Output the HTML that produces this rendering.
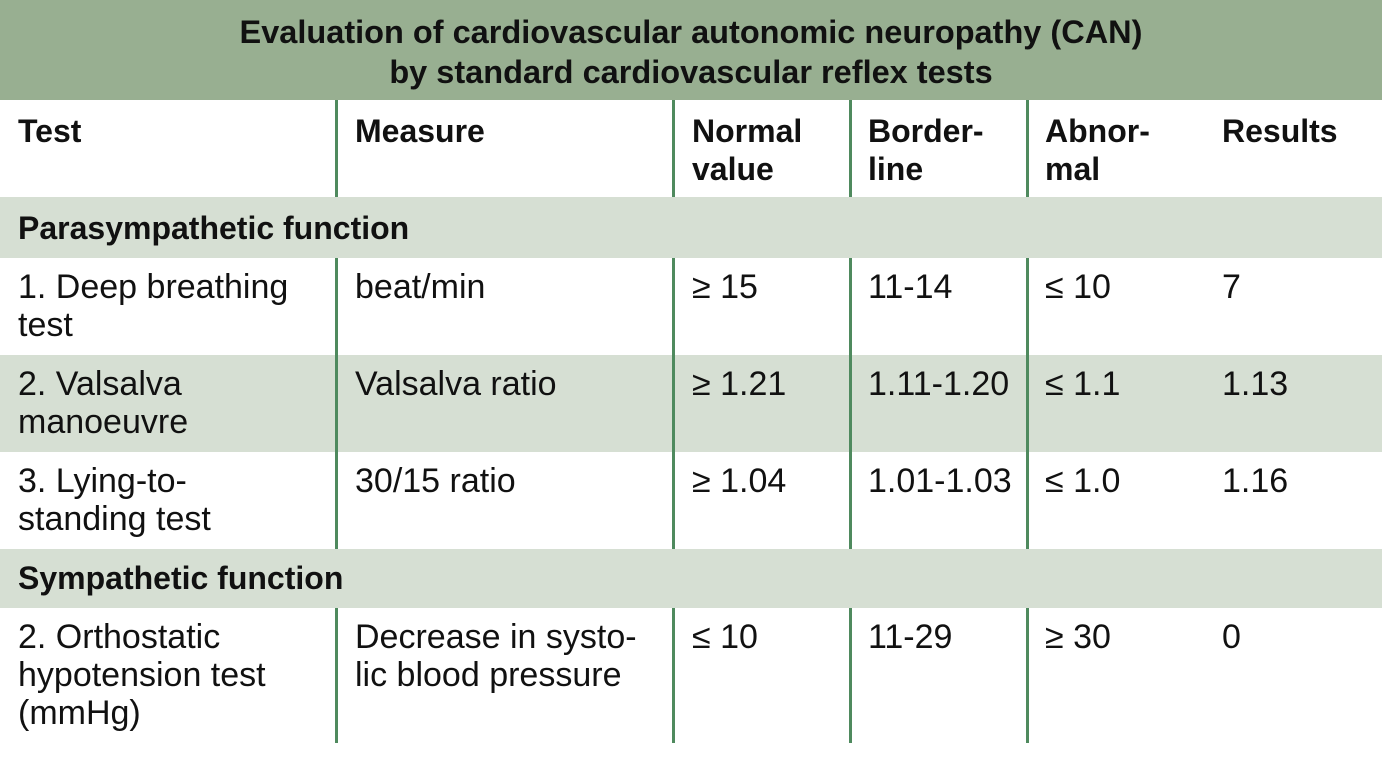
<!DOCTYPE html>
<html><head><meta charset="utf-8"><style>
body{margin:0;width:1382px;height:769px;background:#fff;position:relative;overflow:hidden;font-family:"Liberation Sans",Arial,sans-serif;color:#111}
.b{position:absolute;left:0;width:1382px}
.t{position:absolute;font-size:34px;line-height:38px;white-space:nowrap}
.h{font-weight:bold;font-size:32px}
.v{position:absolute;width:3px;background:#4f8a5e}
</style></head><body>
<div class="b" style="top:0;height:100px;background:#98af91"></div>
<div class="b" style="top:197px;height:61px;background:#d6dfd3"></div>
<div class="b" style="top:355px;height:97px;background:#d6dfd3"></div>
<div class="b" style="top:549px;height:59px;background:#d6dfd3"></div>
<div class="t h" style="left:0;width:1382px;text-align:center;top:12px;font-size:32.5px;line-height:40px">Evaluation of cardiovascular autonomic neuropathy (CAN)<br>by standard cardiovascular reflex tests</div>

<div class="v" style="left:335px;top:100px;height:97px"></div>
<div class="v" style="left:672px;top:100px;height:97px"></div>
<div class="v" style="left:849px;top:100px;height:97px"></div>
<div class="v" style="left:1026px;top:100px;height:97px"></div>
<div class="v" style="left:335px;top:258px;height:291px"></div>
<div class="v" style="left:672px;top:258px;height:291px"></div>
<div class="v" style="left:849px;top:258px;height:291px"></div>
<div class="v" style="left:1026px;top:258px;height:291px"></div>
<div class="v" style="left:335px;top:608px;height:135px"></div>
<div class="v" style="left:672px;top:608px;height:135px"></div>
<div class="v" style="left:849px;top:608px;height:135px"></div>
<div class="v" style="left:1026px;top:608px;height:135px"></div>

<div class="t h" style="left:18px;top:112px">Test</div>
<div class="t h" style="left:355px;top:112px">Measure</div>
<div class="t h" style="left:692px;top:112px">Normal<br>value</div>
<div class="t h" style="left:868px;top:112px">Border-<br>line</div>
<div class="t h" style="left:1045px;top:112px">Abnor-<br>mal</div>
<div class="t h" style="left:1222px;top:112px">Results</div>

<div class="t h" style="left:18px;top:209px">Parasympathetic function</div>

<div class="t" style="left:18px;top:268px">1. Deep breathing<br>test</div>
<div class="t" style="left:355px;top:268px">beat/min</div>
<div class="t" style="left:692px;top:268px">≥ 15</div>
<div class="t" style="left:868px;top:268px">11-14</div>
<div class="t" style="left:1045px;top:268px">≤ 10</div>
<div class="t" style="left:1222px;top:268px">7</div>

<div class="t" style="left:18px;top:365px">2. Valsalva<br>manoeuvre</div>
<div class="t" style="left:355px;top:365px">Valsalva ratio</div>
<div class="t" style="left:692px;top:365px">≥ 1.21</div>
<div class="t" style="left:868px;top:365px">1.11-1.20</div>
<div class="t" style="left:1045px;top:365px">≤ 1.1</div>
<div class="t" style="left:1222px;top:365px">1.13</div>

<div class="t" style="left:18px;top:462px">3. Lying-to-<br>standing test</div>
<div class="t" style="left:355px;top:462px">30/15 ratio</div>
<div class="t" style="left:692px;top:462px">≥ 1.04</div>
<div class="t" style="left:868px;top:462px">1.01-1.03</div>
<div class="t" style="left:1045px;top:462px">≤ 1.0</div>
<div class="t" style="left:1222px;top:462px">1.16</div>

<div class="t h" style="left:18px;top:559px">Sympathetic function</div>

<div class="t" style="left:18px;top:618px">2. Orthostatic<br>hypotension test<br>(mmHg)</div>
<div class="t" style="left:355px;top:618px">Decrease in systo-<br>lic blood pressure</div>
<div class="t" style="left:692px;top:618px">≤ 10</div>
<div class="t" style="left:868px;top:618px">11-29</div>
<div class="t" style="left:1045px;top:618px">≥ 30</div>
<div class="t" style="left:1222px;top:618px">0</div>
</body></html>
